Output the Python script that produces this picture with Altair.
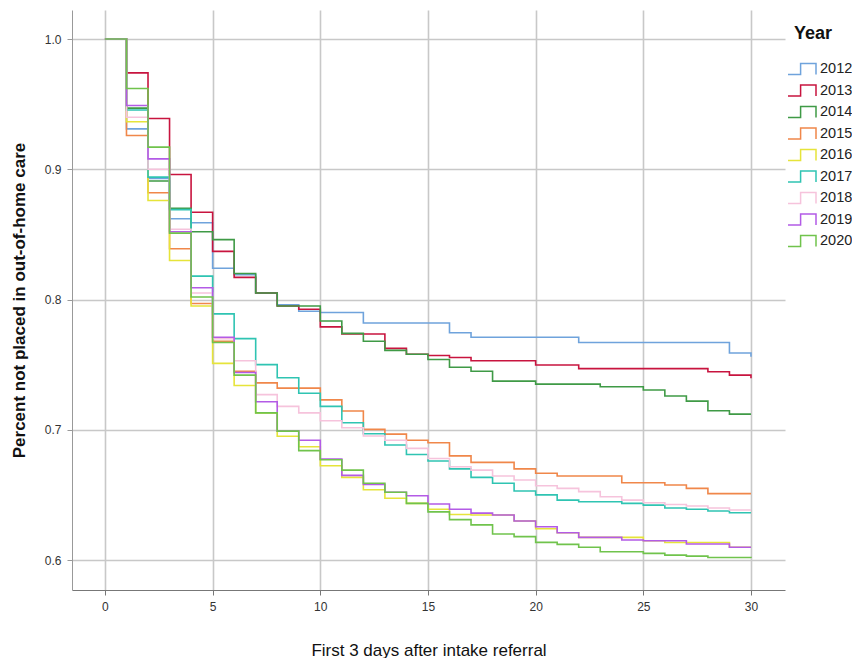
import altair as alt
import pandas as pd

days = list(range(31))
years = ["2012", "2013", "2014", "2015", "2016", "2017", "2018", "2019", "2020"]
colors = ["#6fa3dc", "#c8143f", "#3f9a46", "#f0874a", "#e6e43a", "#2fc4b2", "#f6c3dc", "#b35be6", "#70c34c"]

s2012 = [1.0, 0.931, 0.893, 0.862, 0.859, 0.824, 0.819, 0.805, 0.796, 0.791, 0.790, 0.790, 0.782, 0.782, 0.782, 0.782,
         0.7745, 0.771, 0.771, 0.771, 0.771, 0.771, 0.767, 0.767, 0.767, 0.767, 0.767, 0.767, 0.767, 0.759, 0.756]
s2013 = [1.0, 0.974, 0.939, 0.896, 0.867, 0.837, 0.817, 0.805, 0.795, 0.7925, 0.779, 0.7735, 0.7735, 0.7625, 0.758, 0.757,
         0.7555, 0.753, 0.753, 0.753, 0.7497, 0.7497, 0.747, 0.747, 0.747, 0.747, 0.747, 0.747, 0.7446, 0.742, 0.7395]
s2014 = [1.0, 0.947, 0.891, 0.870, 0.852, 0.846, 0.820, 0.805, 0.795, 0.795, 0.7835, 0.774, 0.768, 0.761, 0.758, 0.754,
         0.748, 0.745, 0.7374, 0.7374, 0.7351, 0.7351, 0.7351, 0.733, 0.733, 0.7305, 0.726, 0.722, 0.7146, 0.712, 0.712]
s2015 = [1.0, 0.926, 0.882, 0.839, 0.797, 0.768, 0.745, 0.736, 0.732, 0.732, 0.723, 0.7144, 0.7003, 0.6967, 0.692, 0.690,
         0.680, 0.675, 0.675, 0.670, 0.6666, 0.6645, 0.6645, 0.6645, 0.6594, 0.6594, 0.6576, 0.655, 0.651, 0.651, 0.651]
s2016 = [1.0, 0.9365, 0.876, 0.830, 0.795, 0.751, 0.734, 0.713, 0.695, 0.687, 0.6724, 0.6635, 0.654, 0.6474, 0.6435, 0.639,
         0.635, 0.6346, 0.6346, 0.630, 0.624, 0.621, 0.6174, 0.6174, 0.6174, 0.6148, 0.6135, 0.6135, 0.6135, 0.6098, 0.6098]
s2017 = [1.0, 0.9455, 0.894, 0.869, 0.818, 0.789, 0.770, 0.750, 0.740, 0.728, 0.718, 0.7054, 0.697, 0.6883, 0.681, 0.676,
         0.670, 0.6635, 0.659, 0.653, 0.650, 0.646, 0.6448, 0.6448, 0.6435, 0.6422, 0.640, 0.639, 0.6376, 0.6363, 0.6363]
s2018 = [1.0, 0.940, 0.900, 0.854, 0.805, 0.770, 0.753, 0.727, 0.718, 0.713, 0.707, 0.7016, 0.6952, 0.692, 0.6857, 0.678,
         0.6716, 0.669, 0.6645, 0.6614, 0.657, 0.655, 0.6525, 0.6486, 0.646, 0.644, 0.6427, 0.6415, 0.640, 0.6384, 0.6384]
s2019 = [1.0, 0.949, 0.908, 0.852, 0.809, 0.771, 0.744, 0.7215, 0.699, 0.692, 0.6775, 0.665, 0.658, 0.652, 0.6494, 0.643,
         0.639, 0.636, 0.6346, 0.630, 0.6256, 0.621, 0.6174, 0.6174, 0.6154, 0.6148, 0.6148, 0.6123, 0.6123, 0.6098, 0.6098]
s2020 = [1.0, 0.962, 0.917, 0.851, 0.802, 0.767, 0.742, 0.713, 0.699, 0.684, 0.677, 0.669, 0.659, 0.652, 0.6435, 0.637,
         0.631, 0.627, 0.620, 0.618, 0.6136, 0.612, 0.6098, 0.6064, 0.6064, 0.6051, 0.6038, 0.603, 0.602, 0.602, 0.6015]

x_ticks = [0, 5, 10, 15, 20, 25, 30]
y_ticks = [0.6, 0.7, 0.8, 0.9, 1.0]

series = [s2012, s2013, s2014, s2015, s2016, s2017, s2018, s2019, s2020]
rows = []
for yr, vals in zip(years, series):
    for d, v in zip(days, vals):
        rows.append({"day": d, "value": v, "Year": yr})
df = pd.DataFrame(rows)

chart = alt.Chart(df).mark_line(interpolate="step-after", strokeWidth=1.6).encode(
    x=alt.X("day:Q",
            scale=alt.Scale(domain=[-1.53, 31.58], nice=False, zero=False),
            axis=alt.Axis(values=x_ticks, title="First 3 days after intake referral",
                          titleFontSize=17, titleFontWeight="normal", titlePadding=30,
                          labelFontSize=12, labelPadding=6, tickSize=5,
                          domainColor="#777777", tickColor="#777777",
                          gridColor="#c8c8c8", gridWidth=1.6)),
    y=alt.Y("value:Q",
            scale=alt.Scale(domain=[0.577, 1.0223], nice=False, zero=False),
            axis=alt.Axis(values=y_ticks, format=".1f", title="Percent not placed in out-of-home care",
                          titleFontSize=17, titleFontWeight="bold", titlePadding=16,
                          labelFontSize=12, labelPadding=6, tickSize=5,
                          domainColor="#999999", tickColor="#999999",
                          gridColor="#c8c8c8", gridWidth=1.6)),
    color=alt.Color("Year:N", scale=alt.Scale(domain=years, range=colors),
                    legend=alt.Legend(title="Year", orient="none", legendX=722, legendY=15,
                                      titleFontSize=18, titleFontWeight="bold", titlePadding=18,
                                      titleColor="#111111",
                                      labelFontSize=14.5, labelColor="#222222", labelOffset=10,
                                      symbolType="M-2,0.8H-0.2V-0.8H2V0.8", symbolSize=196,
                                      symbolStrokeWidth=1.5, symbolFillColor="transparent",
                                      rowPadding=3.5)),
    order=alt.Order("Year:N"),
).properties(
    width=713, height=580,
    autosize=alt.AutoSizeParams(type="none"),
    padding={"left": 64, "top": 2, "right": 67, "bottom": 68},
).configure_view(stroke=None).configure_axis(
    labelColor="#333333", titleColor="#111111", labelFont="Liberation Sans", titleFont="Liberation Sans"
).configure_legend(labelFont="Liberation Sans", titleFont="Liberation Sans")

chart.save("out.html", embed_options={"renderer": "svg", "actions": False})
